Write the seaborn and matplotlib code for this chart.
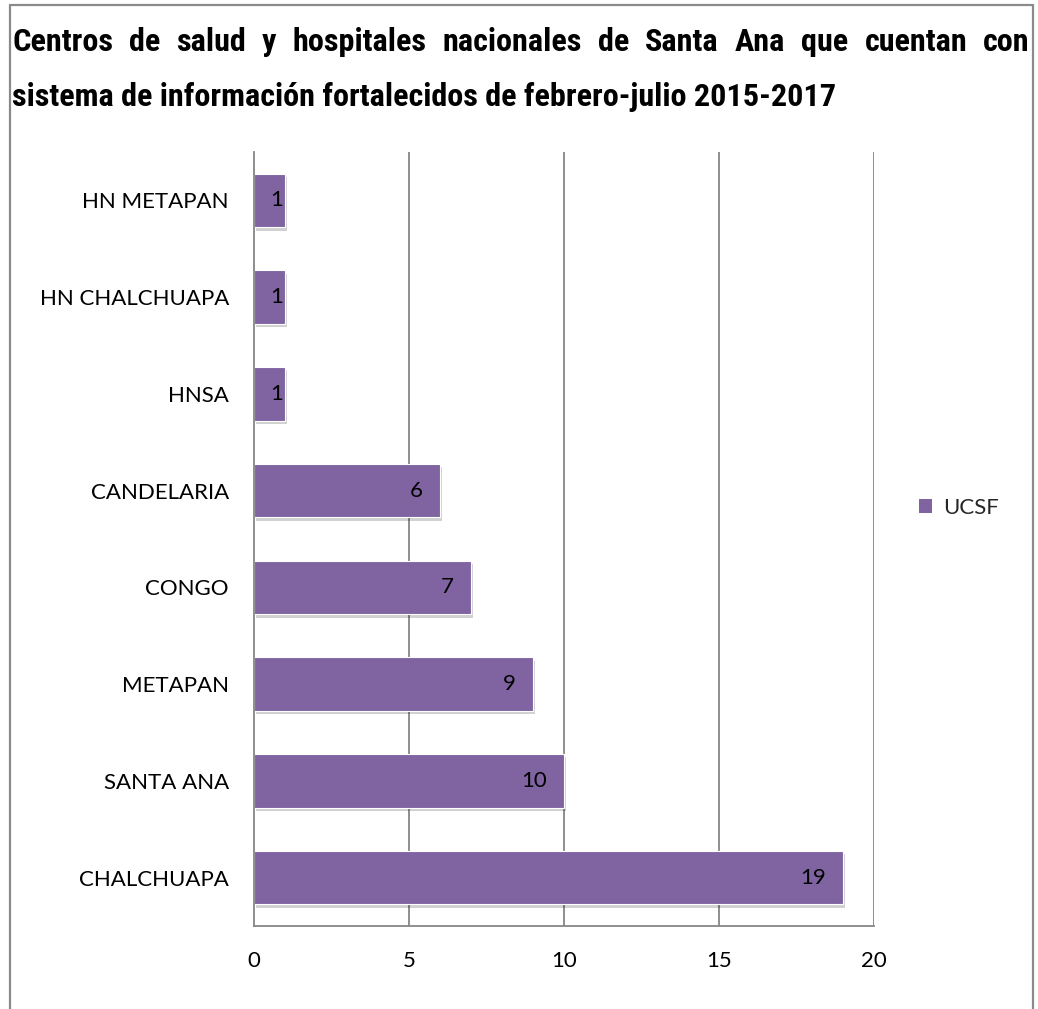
import matplotlib
matplotlib.use("Agg")
import matplotlib.pyplot as plt
import matplotlib.patheffects as pe
from matplotlib.lines import Line2D
from matplotlib.patches import Patch
import seaborn as sns
import pandas as pd

# Data
categorias = ["HN METAPAN", "HN CHALCHUAPA", "HNSA", "CANDELARIA",
              "CONGO", "METAPAN", "SANTA ANA", "CHALCHUAPA"]
valores = [1, 1, 1, 6, 7, 9, 10, 19]
x_ticks = [0, 5, 10, 15, 20]
serie = "UCSF"
titulo_l1 = "Centros de salud y hospitales nacionales de Santa Ana que cuentan con"
titulo_l2 = "sistema de información fortalecidos de febrero-julio 2015-2017"

color_barra = "#8064A2"
color_grid = "#868686"
fuente = ["Lato", "DejaVu Sans"]
tam = 16

df = pd.DataFrame({"centro": categorias, "valor": valores})

sns.set_theme(style="white")
plt.rcParams["font.family"] = fuente

fig = plt.figure(figsize=(10.38, 10.09), dpi=100)
W, H = 1038, 1009
x0_px, x1_px, y0_px, y1_px = 254, 874, 152, 926
ax = fig.add_axes([x0_px / W, 1 - y1_px / H, (x1_px - x0_px) / W, (y1_px - y0_px) / H])

sns.barplot(data=df, y="centro", x="valor", orient="h", color=color_barra,
            saturation=1, width=0.555, ax=ax, order=categorias)

for bar in ax.patches:
    bar.set_edgecolor("white")
    bar.set_linewidth(0.8)
    bar.set_path_effects([pe.SimplePatchShadow(offset=(1.5, -2.5), shadow_rgbFace="#000000", alpha=0.18),
                          pe.Normal()])

ax.set_xlim(0, 20)
ax.set_ylim(len(categorias) - 0.5, -0.5)

# value labels at the inside end of each bar
px_por_unidad = (x1_px - x0_px) / 20
for i, v in enumerate(valores):
    pad_px = 17 if v * px_por_unidad > 60 else 2
    ax.annotate(str(v), xy=(v, i), xytext=(-pad_px * 0.72, 0), textcoords="offset points",
                ha="right", va="center", fontsize=tam, color="black")

ax.set_xticks(x_ticks)
ax.set_xticklabels([str(t) for t in x_ticks])
ax.set_xlabel("")
ax.set_ylabel("")
ax.tick_params(axis="y", length=0, pad=18, labelsize=tam, colors="black")
ax.tick_params(axis="x", length=0, pad=18, labelsize=tam, colors="black")

ax.grid(False)
for t in x_ticks[1:]:
    ax.axvline(t, color=color_grid, linewidth=1.3, zorder=0)
for s in ["top", "right"]:
    ax.spines[s].set_visible(False)
for s in ["left", "bottom"]:
    ax.spines[s].set_color(color_grid)
    ax.spines[s].set_linewidth(1.3)

# legend
handles = [Patch(facecolor=color_barra, edgecolor="none", label=serie)]
fig.legend(handles=handles, loc="center left", bbox_to_anchor=(910 / W, 1 - 508 / H),
           frameon=False, fontsize=tam, handlelength=0.6, handleheight=0.6,
           handletextpad=0.5, borderaxespad=0)

# outer border (left, top, right)
border = dict(color="#8a8a8a", linewidth=1.6, transform=fig.transFigure)
fig.add_artist(Line2D([10 / W, 10 / W], [0, 1 - 5 / H], **border))
fig.add_artist(Line2D([10 / W, 1033 / W], [1 - 5 / H, 1 - 5 / H], **border))
fig.add_artist(Line2D([1033 / W, 1033 / W], [0, 1 - 5 / H], **border))

# title: size fitted to the second line, first line justified across the width
fig.canvas.draw()
renderer = fig.canvas.get_renderer()
title_font = dict(family=["Liberation Sans Narrow", "Roboto Condensed", "Liberation Sans", "DejaVu Sans"],
                  weight="bold", stretch="condensed", color="black")
x_left, x_right = 12, 1030

probe = fig.text(0, 0, titulo_l2, fontsize=20, **title_font)
w2 = probe.get_window_extent(renderer).width
probe.remove()
size_t = 20 * 824 / w2

palabras = titulo_l1.split(" ")
anchos = []
for w in palabras:
    t = fig.text(0, 0, w, fontsize=size_t, **title_font)
    anchos.append(t.get_window_extent(renderer).width)
    t.remove()
gap = (x_right - x_left - sum(anchos)) / (len(palabras) - 1)
x = x_left
for w, a in zip(palabras, anchos):
    fig.text(x / W, 1 - 42 / H, w, ha="left", va="center", fontsize=size_t, **title_font)
    x += a + gap
fig.text(x_left / W, 1 - 97 / H, titulo_l2, ha="left", va="center", fontsize=size_t, **title_font)

fig.savefig("out.png", dpi=100, facecolor="white")
